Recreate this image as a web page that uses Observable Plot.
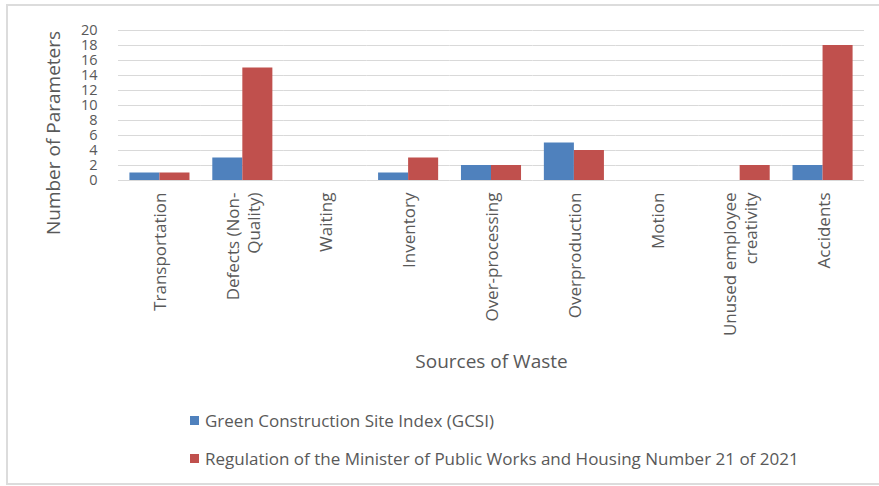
<!DOCTYPE html>
<html>
<head>
<meta charset="utf-8">
<script src="https://cdn.jsdelivr.net/npm/d3@7"></script>
<script src="https://cdn.jsdelivr.net/npm/@observablehq/plot@0.6"></script>
<style>
  html, body { margin: 0; padding: 0; background: #fff; }
  #wrap { position: relative; width: 879px; height: 486px; overflow: hidden; font-family: "Open Sans", sans-serif; }
  #border { position: absolute; left: 6px; top: 4px; width: 880px; height: 481px; border: 2px solid #dcdcdc; box-sizing: border-box; }
  #chart { position: absolute; left: 0; top: 0; }
  #ytitle { position: absolute; left: 53px; top: 133px; transform: translate(-50%, -50%) rotate(-90deg); white-space: nowrap; color: #595959; font-size: 19px; }
  #legend { position: absolute; left: 190px; top: 409px; color: #595959; font-size: 17px; }
  .item { display: flex; align-items: center; height: 22px; margin-bottom: 16px; }
  .sw { width: 9px; height: 9px; margin-right: 6px; }
</style>
</head>
<body>
<div id="wrap">
  <div id="border"></div>
  <div id="chart"></div>
  <div id="ytitle"></div>
  <div id="legend"></div>
</div>
<script>
const categories = ["Transportation", "Defects (Non-\nQuality)", "Waiting", "Inventory", "Over-processing", "Overproduction", "Motion", "Unused employee\ncreativity", "Accidents"];
const series = ["Green Construction Site Index (GCSI)", "Regulation of the Minister of Public Works and Housing Number 21 of 2021"];
const gcsi = [1, 3, 0, 1, 2, 5, 0, 0, 2];
const regulation = [1, 15, 0, 3, 2, 4, 0, 2, 18];
const colors = ["#4f81bd", "#c0504d"];
const yTicks = [0, 2, 4, 6, 8, 10, 12, 14, 16, 18, 20];
const xTitle = "Sources of Waste";
const yTitle = "Number of Parameters";

const data = [];
categories.forEach((c, i) => {
  data.push({cat: c, series: series[0], value: gcsi[i]});
  data.push({cat: c, series: series[1], value: regulation[i]});
});

const chart = Plot.plot({
  width: 879,
  height: 400,
  marginLeft: 118,
  marginRight: 15,
  marginTop: 30,
  marginBottom: 220,
  style: {fontFamily: "Open Sans, sans-serif", color: "#595959", background: "transparent"},
  fx: {domain: categories, padding: 0, round: false, axis: null, label: null},
  x: {domain: series, paddingInner: 0, paddingOuter: 0.38, round: false, axis: null},
  y: {domain: [0, 20], axis: null},
  color: {domain: series, range: colors},
  marks: [
    Plot.ruleY(yTicks, {stroke: "#d9d9d9", strokeWidth: 1}),
    Plot.barY(data, {fx: "cat", x: "series", y: "value", fill: "series"}),
    Plot.axisY({ticks: yTicks, tickSize: 0, tickPadding: 21, fontSize: 14.5, fill: "#595959", label: null}),
    Plot.text(categories, {fx: d => d, text: d => d, frameAnchor: "bottom", rotate: -90, textAnchor: "end", lineAnchor: "middle", lineHeight: 1.2, dy: 12, fontSize: 17, fill: "#595959"}),
    Plot.text([categories[4]], {fx: d => d, text: () => xTitle, frameAnchor: "bottom", dy: 187, fontSize: 19, fill: "#595959"})
  ]
});
document.getElementById("chart").appendChild(chart);
document.getElementById("ytitle").textContent = yTitle;

const legend = document.getElementById("legend");
series.forEach((s, i) => {
  const item = document.createElement("div");
  item.className = "item";
  const sw = document.createElement("div");
  sw.className = "sw";
  sw.style.background = colors[i];
  const t = document.createElement("span");
  t.textContent = s;
  item.appendChild(sw);
  item.appendChild(t);
  legend.appendChild(item);
});
</script>
</body>
</html>
